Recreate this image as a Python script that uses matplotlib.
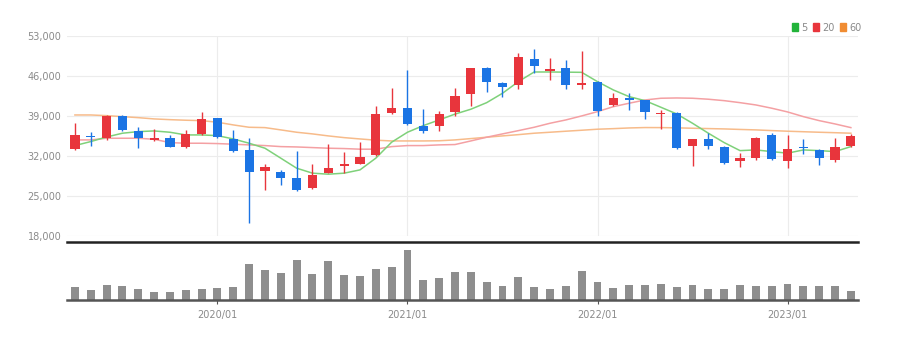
import numpy as np
import matplotlib.pyplot as plt
from matplotlib.patches import Patch

# monthly candles, 2019/04 .. 2023/05
months = ["2019/04", "2019/05", "2019/06", "2019/07", "2019/08", "2019/09", "2019/10", "2019/11", "2019/12",
          "2020/01", "2020/02", "2020/03", "2020/04", "2020/05", "2020/06", "2020/07", "2020/08", "2020/09",
          "2020/10", "2020/11", "2020/12", "2021/01", "2021/02", "2021/03", "2021/04", "2021/05", "2021/06",
          "2021/07", "2021/08", "2021/09", "2021/10", "2021/11", "2021/12", "2022/01", "2022/02", "2022/03",
          "2022/04", "2022/05", "2022/06", "2022/07", "2022/08", "2022/09", "2022/10", "2022/11", "2022/12",
          "2023/01", "2023/02", "2023/03", "2023/04", "2023/05"]

open_ = [33150, 35450, 35100, 39000, 36350, 34750, 35200, 33550, 35850, 38550,
         34900, 33050, 29400, 29250, 28100, 26350, 29080, 30200, 30550, 32170,
         39450, 40330, 37290, 37230, 39730, 42770, 47410, 44790, 44390, 48930,
         46890, 47310, 44340, 44860, 40900, 42120, 41770, 39280, 39450, 33790,
         34900, 33520, 31070, 31590, 35660, 31180, 33620, 33040, 31300, 33740]
close = [35650, 35300, 39030, 36600, 35200, 35200, 33550, 35900, 38400, 35250,
         32900, 29250, 30000, 28100, 26050, 28680, 29950, 30650, 31880, 39280,
         40330, 37580, 36410, 39330, 42520, 47310, 44860, 44090, 49230, 47760,
         47190, 44340, 44790, 39850, 42070, 41770, 39620, 39560, 33450, 34900,
         33740, 30720, 31700, 35090, 31420, 33270, 33390, 31590, 33620, 35540]
high = [37700, 36150, 39200, 39150, 37000, 36700, 35700, 36500, 39600, 38700,
        36550, 35100, 30600, 29550, 32850, 30600, 34040, 32650, 34500, 40780,
        43820, 47010, 40200, 39850, 43920, 47400, 47500, 44970, 50030, 50630,
        49050, 48760, 50300, 45000, 42940, 42940, 41820, 40030, 39600, 35000,
        36060, 33800, 32570, 35370, 35960, 35610, 34900, 33200, 35090, 35780]
low = [33000, 33750, 34800, 36300, 33450, 34600, 33500, 33350, 35650, 35100,
       32750, 20350, 26050, 26950, 25900, 26200, 28980, 28980, 30500, 32000,
       39400, 37400, 36060, 36410, 38980, 40780, 43220, 42240, 43640, 46540,
       45270, 43690, 43690, 38980, 40800, 40030, 38400, 36660, 33270, 30250,
       33270, 30550, 30120, 31300, 31300, 29850, 32340, 30420, 31000, 33600]

volume = [38, 31, 44, 41, 34, 25, 25, 30, 34, 35,
          40, 108, 91, 80, 121, 78, 118, 76, 71, 93,
          99, 150, 61, 66, 84, 85, 55, 43, 68, 38,
          34, 41, 87, 54, 36, 44, 44, 49, 38, 45,
          34, 34, 45, 41, 41, 48, 41, 41, 41, 27]

ma5 = [33800, 34500, 35300, 35960, 36240, 36360, 36130, 35660, 35660, 35540,
       34960, 34210, 33340, 31600, 29850, 28980, 28800, 28980, 29550, 31600,
       34390, 36130, 37290, 38280, 39300, 40150, 41300, 42940, 44970, 46660,
       46660, 46630, 46600, 44970, 43520, 42350, 41650, 40500, 39330, 37700,
       35960, 34320, 32920, 33040, 32750, 32470, 33040, 32920, 32750, 33620]
ma20 = [34790, 34790, 35080, 35080, 35080, 34900, 34320, 34210, 34210, 34150,
        34040, 33920, 33800, 33620, 33560, 33450, 33340, 33280, 33170, 33170,
        33620, 33800, 33800, 33920, 33980, 34610, 35260, 35840, 36410, 37000,
        37700, 38280, 38980, 39730, 40600, 41200, 41770, 42070, 42120, 42070,
        41900, 41650, 41300, 40900, 40330, 39680, 38860, 38160, 37580, 36940]
ma60 = [39150, 39150, 39030, 38860, 38680, 38460, 38330, 38230, 38160, 37880,
        37410, 37000, 36940, 36540, 36130, 35840, 35490, 35190, 34960, 34740,
        34610, 34610, 34610, 34640, 34790, 35020, 35260, 35490, 35710, 35960,
        36130, 36310, 36480, 36660, 36760, 36880, 36950, 36940, 36900, 36830,
        36770, 36710, 36620, 36540, 36420, 36310, 36220, 36130, 36050, 35960]

yticks = [18000, 25000, 32000, 39000, 46000, 53000]

UP = "#e8353c"
DOWN = "#1b74e4"
GRID = "#ececec"
TXT = "#8a8a8a"
FONT = ["Liberation Sans Narrow", "DejaVu Sans"]

x = np.arange(len(months))
year_idx = [i for i, m in enumerate(months) if m.endswith("/01")]

fig = plt.figure(figsize=(9.02, 3.37), dpi=100)
W, H = 902, 337
ax = fig.add_axes([67 / W, 1 - 236 / H, (858 - 67) / W, (236 - 35.7) / H])
axv = fig.add_axes([67 / W, 1 - 300 / H, (858 - 67) / W, (300 - 242) / H], sharex=ax)

# price panel
for xi in year_idx:
    ax.axvline(xi, color=GRID, lw=0.8, zorder=0)
for yt in yticks:
    ax.axhline(yt, color=GRID, lw=0.8, zorder=0)

ax.plot(x, ma60, color="#f7bb8a", lw=1.1, zorder=2)
ax.plot(x, ma20, color="#f4a0a3", lw=1.1, zorder=2)
ax.plot(x, ma5, color="#7fd17a", lw=1.1, zorder=2)

colors = [UP if c >= o else DOWN for o, c in zip(open_, close)]
ax.vlines(x, low, high, colors=colors, lw=1.0, zorder=3)
body_lo = np.minimum(open_, close)
body_h = np.maximum(np.abs(np.array(close) - np.array(open_)), 120)
ax.bar(x, body_h, bottom=body_lo, width=0.58, color=colors, zorder=4)

ax.set_ylim(18000, 53000)
ax.set_xlim(-0.5, 49.45)
ax.set_yticks(yticks)
ax.set_yticklabels([f"{v:,}" for v in yticks], fontsize=7, color=TXT, family=FONT)
ax.tick_params(axis="y", length=0, pad=4)
ax.tick_params(axis="x", length=0, labelbottom=False)
for s in ax.spines.values():
    s.set_visible(False)

# volume panel
axv.bar(x, volume, width=0.5, color="#8e8e8e", zorder=2)
axv.set_ylim(0, 174)
axv.set_yticks([])
axv.set_xticks(year_idx)
axv.set_xticklabels([months[i] for i in year_idx], fontsize=7, color=TXT, family=FONT)
axv.tick_params(axis="x", length=3, color="#555555", pad=4)
for s in ["left", "right"]:
    axv.spines[s].set_visible(False)
axv.spines["top"].set_color("#222222")
axv.spines["top"].set_linewidth(1.8)
axv.spines["bottom"].set_color("#555555")
axv.spines["bottom"].set_linewidth(1.8)

handles = [Patch(color="#22b33a", label="5"), Patch(color="#e8353c", label="20"),
           Patch(color="#f08c32", label="60")]
fig.legend(handles=handles, loc="upper right", bbox_to_anchor=(870 / W, 1 - 14 / H), ncol=3,
           frameon=False, handlelength=0.6, handleheight=0.9, handletextpad=0.3,
           columnspacing=0.6, prop={"family": FONT, "size": 7}, labelcolor=TXT)

fig.savefig("out.png", dpi=100, facecolor="white")
